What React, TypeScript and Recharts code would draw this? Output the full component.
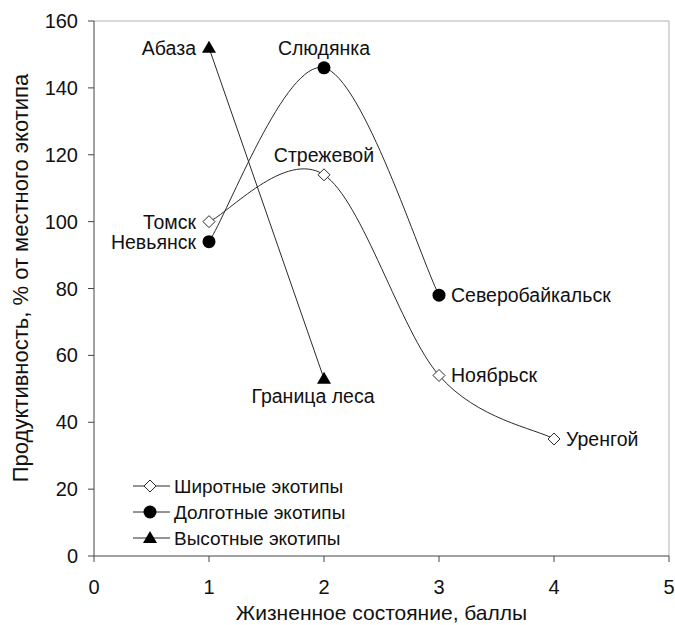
import { LineChart, Line, XAxis, YAxis, ReferenceLine, LabelList } from 'recharts';

// Широтные экотипы
const latX = [1, 2, 3, 4];
const latY = [100, 114, 54, 35];
const latNames = ['Томск', 'Стрежевой', 'Ноябрьск', 'Уренгой'];

// Долготные экотипы
const lonX = [1, 2, 3];
const lonY = [94, 146, 78];
const lonNames = ['Невьянск', 'Слюдянка', 'Северобайкальск'];

// Высотные экотипы
const altX = [1, 2];
const altY = [152, 53];
const altNames = ['Абаза', 'Граница леса'];

const xTicks = [0, 1, 2, 3, 4, 5];
const yTicks = [0, 20, 40, 60, 80, 100, 120, 140, 160];

const seriesNames = ['Широтные экотипы', 'Долготные экотипы', 'Высотные экотипы'];

// where each point label sits relative to its marker
const labelSide: Record<string, string> = {
  'Томск': 'left', 'Стрежевой': 'top', 'Ноябрьск': 'right', 'Уренгой': 'right',
  'Невьянск': 'left', 'Слюдянка': 'top', 'Северобайкальск': 'right',
  'Абаза': 'left', 'Граница леса': 'bottom',
};

const latData = latX.map((x, i) => ({ x, y: latY[i], name: latNames[i] }));
const lonData = lonX.map((x, i) => ({ x, y: lonY[i], name: lonNames[i] }));
const altData = altX.map((x, i) => ({ x, y: altY[i], name: altNames[i] }));

const FONT = '"Liberation Sans", Arial, sans-serif';
const LINE = '#2a2a2a';

// Excel-like smoothed line (Catmull-Rom through the points)
const smooth = (context: any) => {
  let pts: number[][] = [];
  return {
    areaStart() {},
    areaEnd() {},
    lineStart() { pts = []; },
    point(x: number, y: number) { pts.push([+x, +y]); },
    lineEnd() {
      if (!pts.length) return;
      context.moveTo(pts[0][0], pts[0][1]);
      for (let i = 0; i < pts.length - 1; i++) {
        const p0 = pts[Math.max(i - 1, 0)];
        const p1 = pts[i];
        const p2 = pts[i + 1];
        const p3 = pts[Math.min(i + 2, pts.length - 1)];
        context.bezierCurveTo(
          p1[0] + (p2[0] - p0[0]) / 6, p1[1] + (p2[1] - p0[1]) / 6,
          p2[0] - (p3[0] - p1[0]) / 6, p2[1] - (p3[1] - p1[1]) / 6,
          p2[0], p2[1],
        );
      }
    },
  };
};

const diamond = (cx: number, cy: number) => (
  <path d={`M${cx},${cy - 6}L${cx + 6},${cy}L${cx},${cy + 6}L${cx - 6},${cy}Z`} fill="#fff" stroke={LINE} strokeWidth={1} />
);
const circle = (cx: number, cy: number) => <circle cx={cx} cy={cy} r={6.5} fill="#000" />;
const triangle = (cx: number, cy: number) => (
  <path d={`M${cx},${cy - 7}L${cx + 7},${cy + 5}L${cx - 7},${cy + 5}Z`} fill="#000" />
);

const makeDot = (shape: (cx: number, cy: number) => any) => (props: any) => (
  <g key={`dot-${props.index}`}>{shape(props.cx, props.cy)}</g>
);

const PointLabel = (props: any) => {
  const { x, y, value } = props;
  const side = labelSide[value] || 'right';
  let tx = x;
  let ty = y;
  let anchor = 'middle';
  if (side === 'left') { tx = x - 13; anchor = 'end'; }
  if (side === 'right') { tx = x + 12; anchor = 'start'; }
  if (side === 'top') { ty = y - 20; }
  if (side === 'bottom') { ty = y + 17; tx = x - 11; }
  return (
    <text x={tx} y={ty} textAnchor={anchor} dominantBaseline="central" fontSize={19.5} fontFamily={FONT} fill="#111">
      {value}
    </text>
  );
};

const legendShapes = [diamond, circle, triangle];

const LegendBox = () => (
  <svg width={260} height={80} style={{ position: 'absolute', left: 130, top: 474 }}>
    {seriesNames.map((n, i) => {
      const cy = 12 + i * 26;
      return (
        <g key={n}>
          <line x1={3} x2={40} y1={cy} y2={cy} stroke={LINE} strokeWidth={1} />
          {legendShapes[i](20, cy)}
          <text x={44} y={cy} dominantBaseline="central" fontSize={19} fontFamily={FONT} fill="#111">{n}</text>
        </g>
      );
    })}
  </svg>
);

export default function App() {
  return (
    <div style={{ position: 'absolute', left: 0, top: 0, width: 675, height: 625, background: '#fff' }}>
      <LineChart width={675} height={625} margin={{ top: 21, right: 6, left: 0, bottom: 0 }}>
        <XAxis
          type="number"
          dataKey="x"
          domain={[0, 5]}
          ticks={xTicks}
          allowDuplicatedCategory={false}
          stroke="#444"
          tickSize={6}
          tickMargin={18}
          height={69}
          tick={{ fontSize: 20, fontFamily: FONT, fill: '#111' }}
          label={{ value: 'Жизненное состояние, баллы', position: 'insideBottom', offset: 5, fontSize: 21, fontFamily: FONT, fill: '#111' }}
        />
        <YAxis
          type="number"
          dataKey="y"
          domain={[0, 160]}
          ticks={yTicks}
          stroke="#444"
          tickSize={6}
          tickMargin={10}
          width={94}
          tick={{ fontSize: 20, fontFamily: FONT, fill: '#111' }}
          label={() => (
            <text
              transform="rotate(-90, 20, 278)"
              x={20}
              y={278}
              textAnchor="middle"
              dominantBaseline="central"
              fontSize={22}
              fontFamily={FONT}
              fill="#111"
            >
              Продуктивность, % от местного экотипа
            </text>
          )}
        />
        <ReferenceLine y={160} stroke="#b0b0b0" />
        <ReferenceLine x={5} stroke="#b0b0b0" />
        <Line
          data={latData}
          dataKey="y"
          name={seriesNames[0]}
          type={smooth as any}
          stroke={LINE}
          strokeWidth={1}
          dot={makeDot(diamond)}
          isAnimationActive={false}
        >
          <LabelList dataKey="name" content={PointLabel} />
        </Line>
        <Line
          data={lonData}
          dataKey="y"
          name={seriesNames[1]}
          type={smooth as any}
          stroke={LINE}
          strokeWidth={1}
          dot={makeDot(circle)}
          isAnimationActive={false}
        >
          <LabelList dataKey="name" content={PointLabel} />
        </Line>
        <Line
          data={altData}
          dataKey="y"
          name={seriesNames[2]}
          type="linear"
          stroke={LINE}
          strokeWidth={1}
          dot={makeDot(triangle)}
          isAnimationActive={false}
        >
          <LabelList dataKey="name" content={PointLabel} />
        </Line>
      </LineChart>
      <LegendBox />
    </div>
  );
}
